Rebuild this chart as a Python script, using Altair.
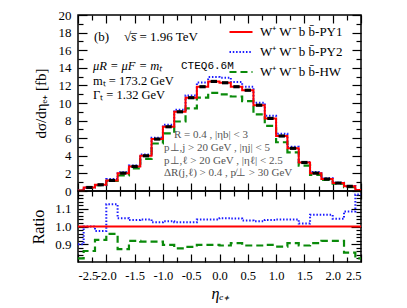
import altair as alt
import pandas as pd

# ---------------- data ----------------
edges = [-2.5, -2.4, -2.2, -2.0, -1.8, -1.6, -1.4, -1.2, -1.0, -0.8, -0.6, -0.4, -0.2, 0.0,
         0.2, 0.4, 0.6, 0.8, 1.0, 1.2, 1.4, 1.6, 1.8, 2.0, 2.2, 2.4, 2.5]

py1 = [0.05, 0.40, 0.71, 1.20, 2.03, 2.79, 4.00, 5.90, 7.30, 9.00, 10.60, 11.85, 12.45,
       12.30, 11.85, 11.45, 9.75, 8.25, 6.25, 4.85, 3.24, 2.03, 1.36, 0.90, 0.53, 0.10]
py2 = [0.045, 0.40, 0.69, 1.35, 2.13, 2.89, 4.16, 6.04, 7.52, 9.22, 10.85, 12.32, 12.95,
       12.88, 12.38, 11.84, 10.04, 8.56, 6.50, 5.04, 3.30, 2.16, 1.45, 0.94, 0.58, 0.12]
hw = [0.04, 0.345, 0.66, 1.15, 1.77, 2.56, 3.66, 5.40, 6.54, 7.90, 9.38, 10.62, 11.15,
      10.98, 10.74, 10.22, 8.71, 7.39, 5.54, 4.39, 2.89, 1.84, 1.25, 0.83, 0.45, 0.08]

ratio_py2 = [0.90, 1.00, 0.975, 1.125, 1.047, 1.037, 1.04, 1.024, 1.03, 1.024, 1.024, 1.04, 1.04,
             1.047, 1.045, 1.034, 1.03, 1.037, 1.04, 1.04, 1.017, 1.066, 1.066, 1.043, 1.085, 1.18]
ratio_hw = [0.82, 0.862, 0.925, 0.958, 0.873, 0.919, 0.915, 0.915, 0.896, 0.877, 0.885, 0.896, 0.896,
            0.893, 0.906, 0.893, 0.893, 0.896, 0.887, 0.906, 0.893, 0.906, 0.919, 0.919, 0.853, 0.82]

series_names = ["W\u207a W\u207b b b\u0304-PY1", "W\u207a W\u207b b b\u0304-PY2", "W\u207a W\u207b b b\u0304-HW"]
series_colors = ["#ff0000", "#1a1aff", "#0a8a0a"]
series_dash = [[1, 0], [1.5, 1.8], [7, 4]]

x_major = [-2.5, -2.0, -1.5, -1.0, -0.5, 0.0, 0.5, 1.0, 1.5, 2.0, 2.5]
x_minor = [-2.25, -1.75, -1.25, -0.75, -0.25, 0.25, 0.75, 1.25, 1.75, 2.25]
y_major = [0, 2, 4, 6, 8, 10, 12, 14, 16, 18, 20]
y_minor = [1, 3, 5, 7, 9, 11, 13, 15, 17, 19]
r_major = [0.9, 1.0, 1.1]
r_minor = [0.82, 0.84, 0.86, 0.88, 0.92, 0.94, 0.96, 0.98, 1.02, 1.04, 1.06, 1.08,
           1.12, 1.14, 1.16, 1.18]

# ---------------- helpers ----------------
def step_df(vals, name):
    return pd.DataFrame({"eta": edges, "val": list(vals) + [vals[-1]], "series": name})

SERIF = "Liberation Serif"
MONO = "Liberation Mono"
W, H1, H2 = 283, 176, 71

xs = alt.Scale(domain=[-2.5, 2.5], nice=False, zero=False)
ys = alt.Scale(domain=[0, 20], nice=False, zero=False)
rs = alt.Scale(domain=[0.8, 1.2], nice=False, zero=False, clamp=True)

def tax(orient, values, size, **kw):
    base = dict(orient=orient, values=values, tickSize=size, offset=-size, domain=False,
                grid=False, tickColor="black", tickWidth=1.2)
    if "labels" not in kw:
        base["labels"] = False
        base["title"] = None
    base.update(kw)
    return alt.Axis(**base)

legend = alt.Legend(orient="none", legendX=150, legendY=4, title=None, symbolType="stroke",
                    symbolSize=530, symbolStrokeWidth=2, labelFont=SERIF, labelFontSize=13,
                    labelColor="black", rowPadding=-8, labelOffset=6)

color_enc = alt.Color("series:N", scale=alt.Scale(domain=series_names, range=series_colors),
                      legend=legend)
dash_enc = alt.StrokeDash("series:N", scale=alt.Scale(domain=series_names, range=series_dash),
                          legend=legend)

# ---------------- top panel ----------------
df1 = step_df(py1, series_names[0])
df2 = step_df(py2, series_names[1])
df3 = step_df(hw, series_names[2])

centers = [(edges[i] + edges[i + 1]) / 2 for i in range(1, len(edges) - 2)]
marks_df = pd.DataFrame({"eta": centers, "val": py1[1:-1]})

g_line = alt.Chart(df3).mark_line(interpolate="step-after", strokeWidth=2.2).encode(
    x=alt.X("eta:Q", scale=xs, axis=tax("bottom", x_major, 8)),
    y=alt.Y("val:Q", scale=ys, axis=tax("left", y_major, 9, labels=True, labelFont=SERIF,
                                        labelFontSize=13, labelPadding=7, labelColor="black",
                                        title="d\u03c3/d\u03b7\u2091\u208a  [fb]", titleFont=SERIF,
                                        titleFontSize=15, titleFontWeight="normal",
                                        titlePadding=10, titleColor="black")),
    color=color_enc, strokeDash=dash_enc)
b_line = alt.Chart(df2).mark_line(interpolate="step-after", strokeWidth=2).encode(
    x=alt.X("eta:Q", scale=xs, axis=tax("top", x_major, 8)),
    y=alt.Y("val:Q", scale=ys, axis=tax("right", y_major, 9)),
    color=color_enc, strokeDash=dash_enc)
r_line = alt.Chart(df1).mark_line(interpolate="step-after", strokeWidth=2).encode(
    x=alt.X("eta:Q", scale=xs, axis=tax("bottom", x_minor, 5)),
    y=alt.Y("val:Q", scale=ys, axis=tax("left", y_minor, 5)),
    color=color_enc, strokeDash=dash_enc)
k_marks = alt.Chart(marks_df).mark_point(
    shape="M-1,-0.5L1,-0.5L1,0.5L-1,0.5Z", filled=True, size=40, opacity=1, color="black").encode(
    x=alt.X("eta:Q", scale=xs, axis=tax("top", x_minor, 5)),
    y=alt.Y("val:Q", scale=ys, axis=tax("right", y_minor, 5)))

def txt(s, x, y, font=SERIF, size=12.5, color="black", style="normal"):
    return alt.Chart(pd.DataFrame({"t": [s]})).mark_text(
        align="left", baseline="middle", font=font, fontSize=size, color=color, fontStyle=style
    ).encode(text="t:N", x=alt.value(x), y=alt.value(y))

annot_main = ["(b)", "\u221as\u0305 = 1.96 TeV", "\u03bcR = \u03bcF = m\u209c", "CTEQ6.6M",
              "m\u209c = 173.2 GeV", "\u0393\u209c = 1.32 GeV"]
annot_cuts = ["R = 0.4 , |\u03b7b| < 3", "p\u22a5,j > 20 GeV , |\u03b7j| < 5",
              "p\u22a5,\u2113 > 20 GeV , |\u03b7\u2113| < 2.5",
              "\u0394R(j,\u2113) > 0.4 , p\u0338\u22a5 > 30 GeV"]

texts = [
    txt(annot_main[0], 16, 22, size=13),
    txt(annot_main[1], 46, 22, size=13),
    txt(annot_main[2], 15, 51, style="italic"),
    txt(annot_main[3], 103, 51, font=MONO, size=11),
    txt(annot_main[4], 15, 66),
    txt(annot_main[5], 15, 80),
    txt(annot_cuts[0], 96, 120, size=11, color="#555555"),
    txt(annot_cuts[1], 86, 133, size=11, color="#555555"),
    txt(annot_cuts[2], 86, 146, size=11, color="#555555"),
    txt(annot_cuts[3], 86, 158, size=11, color="#555555"),
]

top = alt.layer(g_line, b_line, r_line, k_marks, *texts).resolve_axis(
    x="independent", y="independent").properties(width=W, height=H1)

# ---------------- ratio panel ----------------
rdf2 = pd.DataFrame({"eta": edges, "val": ratio_py2 + [ratio_py2[-1]]})
rdf3 = pd.DataFrame({"eta": edges, "val": ratio_hw + [ratio_hw[-1]]})

rg = alt.Chart(rdf3).mark_line(interpolate="step-after", strokeWidth=2.2, color=series_colors[2],
                               strokeDash=series_dash[2]).encode(
    x=alt.X("eta:Q", scale=xs, axis=tax("bottom", x_major, 8, labels=True, labelFont=SERIF,
                                        labelFontSize=12.5, labelPadding=7, labelColor="black",
                                        labelOverlap=False, format=".1f",
                                        labelExpr="replace(datum.label, '\u2212', '-')",
                                        title="\u03b7\u2091\u208a", titleFont=SERIF, titleFontSize=16,
                                        titleFontWeight="normal", titleFontStyle="italic",
                                        titlePadding=4, titleColor="black")),
    y=alt.Y("val:Q", scale=rs, axis=tax("left", r_major, 10, labels=True, labelFont=SERIF,
                                        labelFontSize=13, labelPadding=7, labelColor="black",
                                        format=".1f",
                                        title="Ratio", titleFont=SERIF, titleFontSize=16,
                                        titleFontWeight="normal", titlePadding=8,
                                        titleColor="black")))
rb = alt.Chart(rdf2).mark_line(interpolate="step-after", strokeWidth=2, color=series_colors[1],
                               strokeDash=series_dash[1]).encode(
    x=alt.X("eta:Q", scale=xs, axis=tax("top", x_major, 8)),
    y=alt.Y("val:Q", scale=rs, axis=tax("right", r_major, 10)))
rr = alt.Chart(rdf2).mark_line(strokeWidth=2, color=series_colors[0]).encode(
    x=alt.X("eta:Q", scale=xs, axis=tax("bottom", x_minor, 5)),
    y=alt.Y(datum=1.0, scale=rs, axis=tax("left", r_minor, 5)))
rinv = alt.Chart(rdf3).mark_line(opacity=0).encode(
    x=alt.X("eta:Q", scale=xs, axis=tax("top", x_minor, 5)),
    y=alt.Y("val:Q", scale=rs, axis=tax("right", r_minor, 5)))

bottom = alt.layer(rg, rb, rr, rinv).resolve_axis(
    x="independent", y="independent").properties(width=W, height=H2)

chart = alt.vconcat(top, bottom, spacing=0, bounds="flush").properties(
    padding={"left": 22, "top": 0, "right": 0, "bottom": 0}
).configure_view(stroke="black", strokeWidth=1.5).configure_axis(tickCap="butt")

chart.save("out.html", embed_options={"renderer": "svg", "actions": False})
